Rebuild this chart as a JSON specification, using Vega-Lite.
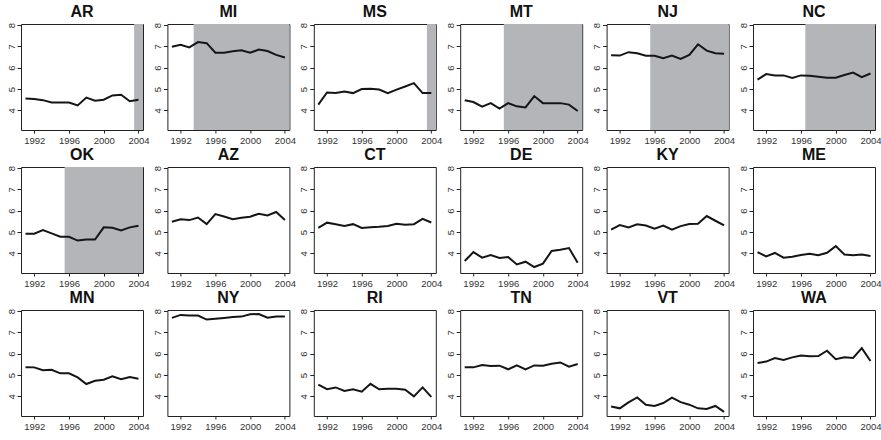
{
"$schema": "https://vega.github.io/schema/vega-lite/v6.json",
"padding": {"left": 5, "top": 3, "right": 2, "bottom": 2},
"background": "white",
"datasets": {
"rates": [
{"state":"AR","order":1,"year":1991,"rate":4.56},{"state":"AR","order":1,"year":1992,"rate":4.53},{"state":"AR","order":1,"year":1993,"rate":4.48},{"state":"AR","order":1,"year":1994,"rate":4.37},{"state":"AR","order":1,"year":1995,"rate":4.37},{"state":"AR","order":1,"year":1996,"rate":4.37},{"state":"AR","order":1,"year":1997,"rate":4.23},{"state":"AR","order":1,"year":1998,"rate":4.6},{"state":"AR","order":1,"year":1999,"rate":4.45},{"state":"AR","order":1,"year":2000,"rate":4.5},{"state":"AR","order":1,"year":2001,"rate":4.7},{"state":"AR","order":1,"year":2002,"rate":4.73},{"state":"AR","order":1,"year":2003,"rate":4.43},{"state":"AR","order":1,"year":2004,"rate":4.5},
{"state":"MI","order":2,"year":1991,"rate":6.98},{"state":"MI","order":2,"year":1992,"rate":7.08},{"state":"MI","order":2,"year":1993,"rate":6.95},{"state":"MI","order":2,"year":1994,"rate":7.2},{"state":"MI","order":2,"year":1995,"rate":7.15},{"state":"MI","order":2,"year":1996,"rate":6.7},{"state":"MI","order":2,"year":1997,"rate":6.7},{"state":"MI","order":2,"year":1998,"rate":6.77},{"state":"MI","order":2,"year":1999,"rate":6.82},{"state":"MI","order":2,"year":2000,"rate":6.7},{"state":"MI","order":2,"year":2001,"rate":6.85},{"state":"MI","order":2,"year":2002,"rate":6.78},{"state":"MI","order":2,"year":2003,"rate":6.6},{"state":"MI","order":2,"year":2004,"rate":6.48},
{"state":"MS","order":3,"year":1991,"rate":4.27},{"state":"MS","order":3,"year":1992,"rate":4.84},{"state":"MS","order":3,"year":1993,"rate":4.81},{"state":"MS","order":3,"year":1994,"rate":4.89},{"state":"MS","order":3,"year":1995,"rate":4.81},{"state":"MS","order":3,"year":1996,"rate":5.0},{"state":"MS","order":3,"year":1997,"rate":5.01},{"state":"MS","order":3,"year":1998,"rate":4.98},{"state":"MS","order":3,"year":1999,"rate":4.81},{"state":"MS","order":3,"year":2000,"rate":4.97},{"state":"MS","order":3,"year":2001,"rate":5.12},{"state":"MS","order":3,"year":2002,"rate":5.28},{"state":"MS","order":3,"year":2003,"rate":4.81},{"state":"MS","order":3,"year":2004,"rate":4.81},
{"state":"MT","order":4,"year":1991,"rate":4.47},{"state":"MT","order":4,"year":1992,"rate":4.39},{"state":"MT","order":4,"year":1993,"rate":4.17},{"state":"MT","order":4,"year":1994,"rate":4.34},{"state":"MT","order":4,"year":1995,"rate":4.08},{"state":"MT","order":4,"year":1996,"rate":4.34},{"state":"MT","order":4,"year":1997,"rate":4.19},{"state":"MT","order":4,"year":1998,"rate":4.14},{"state":"MT","order":4,"year":1999,"rate":4.67},{"state":"MT","order":4,"year":2000,"rate":4.34},{"state":"MT","order":4,"year":2001,"rate":4.34},{"state":"MT","order":4,"year":2002,"rate":4.34},{"state":"MT","order":4,"year":2003,"rate":4.27},{"state":"MT","order":4,"year":2004,"rate":3.97},
{"state":"NJ","order":5,"year":1991,"rate":6.59},{"state":"NJ","order":5,"year":1992,"rate":6.57},{"state":"NJ","order":5,"year":1993,"rate":6.73},{"state":"NJ","order":5,"year":1994,"rate":6.68},{"state":"NJ","order":5,"year":1995,"rate":6.56},{"state":"NJ","order":5,"year":1996,"rate":6.56},{"state":"NJ","order":5,"year":1997,"rate":6.45},{"state":"NJ","order":5,"year":1998,"rate":6.57},{"state":"NJ","order":5,"year":1999,"rate":6.41},{"state":"NJ","order":5,"year":2000,"rate":6.6},{"state":"NJ","order":5,"year":2001,"rate":7.1},{"state":"NJ","order":5,"year":2002,"rate":6.8},{"state":"NJ","order":5,"year":2003,"rate":6.68},{"state":"NJ","order":5,"year":2004,"rate":6.66},
{"state":"NC","order":6,"year":1991,"rate":5.44},{"state":"NC","order":6,"year":1992,"rate":5.7},{"state":"NC","order":6,"year":1993,"rate":5.64},{"state":"NC","order":6,"year":1994,"rate":5.64},{"state":"NC","order":6,"year":1995,"rate":5.52},{"state":"NC","order":6,"year":1996,"rate":5.64},{"state":"NC","order":6,"year":1997,"rate":5.62},{"state":"NC","order":6,"year":1998,"rate":5.58},{"state":"NC","order":6,"year":1999,"rate":5.53},{"state":"NC","order":6,"year":2000,"rate":5.53},{"state":"NC","order":6,"year":2001,"rate":5.66},{"state":"NC","order":6,"year":2002,"rate":5.77},{"state":"NC","order":6,"year":2003,"rate":5.56},{"state":"NC","order":6,"year":2004,"rate":5.73},
{"state":"OK","order":7,"year":1991,"rate":4.92},{"state":"OK","order":7,"year":1992,"rate":4.92},{"state":"OK","order":7,"year":1993,"rate":5.09},{"state":"OK","order":7,"year":1994,"rate":4.94},{"state":"OK","order":7,"year":1995,"rate":4.78},{"state":"OK","order":7,"year":1996,"rate":4.78},{"state":"OK","order":7,"year":1997,"rate":4.6},{"state":"OK","order":7,"year":1998,"rate":4.65},{"state":"OK","order":7,"year":1999,"rate":4.65},{"state":"OK","order":7,"year":2000,"rate":5.22},{"state":"OK","order":7,"year":2001,"rate":5.2},{"state":"OK","order":7,"year":2002,"rate":5.08},{"state":"OK","order":7,"year":2003,"rate":5.22},{"state":"OK","order":7,"year":2004,"rate":5.3},
{"state":"AZ","order":8,"year":1991,"rate":5.48},{"state":"AZ","order":8,"year":1992,"rate":5.6},{"state":"AZ","order":8,"year":1993,"rate":5.56},{"state":"AZ","order":8,"year":1994,"rate":5.68},{"state":"AZ","order":8,"year":1995,"rate":5.37},{"state":"AZ","order":8,"year":1996,"rate":5.84},{"state":"AZ","order":8,"year":1997,"rate":5.73},{"state":"AZ","order":8,"year":1998,"rate":5.6},{"state":"AZ","order":8,"year":1999,"rate":5.67},{"state":"AZ","order":8,"year":2000,"rate":5.72},{"state":"AZ","order":8,"year":2001,"rate":5.86},{"state":"AZ","order":8,"year":2002,"rate":5.78},{"state":"AZ","order":8,"year":2003,"rate":5.94},{"state":"AZ","order":8,"year":2004,"rate":5.57},
{"state":"CT","order":9,"year":1991,"rate":5.2},{"state":"CT","order":9,"year":1992,"rate":5.44},{"state":"CT","order":9,"year":1993,"rate":5.37},{"state":"CT","order":9,"year":1994,"rate":5.28},{"state":"CT","order":9,"year":1995,"rate":5.37},{"state":"CT","order":9,"year":1996,"rate":5.19},{"state":"CT","order":9,"year":1997,"rate":5.23},{"state":"CT","order":9,"year":1998,"rate":5.25},{"state":"CT","order":9,"year":1999,"rate":5.28},{"state":"CT","order":9,"year":2000,"rate":5.39},{"state":"CT","order":9,"year":2001,"rate":5.34},{"state":"CT","order":9,"year":2002,"rate":5.37},{"state":"CT","order":9,"year":2003,"rate":5.62},{"state":"CT","order":9,"year":2004,"rate":5.45},
{"state":"DE","order":10,"year":1991,"rate":3.64},{"state":"DE","order":10,"year":1992,"rate":4.06},{"state":"DE","order":10,"year":1993,"rate":3.8},{"state":"DE","order":10,"year":1994,"rate":3.92},{"state":"DE","order":10,"year":1995,"rate":3.78},{"state":"DE","order":10,"year":1996,"rate":3.83},{"state":"DE","order":10,"year":1997,"rate":3.48},{"state":"DE","order":10,"year":1998,"rate":3.61},{"state":"DE","order":10,"year":1999,"rate":3.36},{"state":"DE","order":10,"year":2000,"rate":3.52},{"state":"DE","order":10,"year":2001,"rate":4.11},{"state":"DE","order":10,"year":2002,"rate":4.17},{"state":"DE","order":10,"year":2003,"rate":4.25},{"state":"DE","order":10,"year":2004,"rate":3.56},
{"state":"KY","order":11,"year":1991,"rate":5.11},{"state":"KY","order":11,"year":1992,"rate":5.33},{"state":"KY","order":11,"year":1993,"rate":5.22},{"state":"KY","order":11,"year":1994,"rate":5.36},{"state":"KY","order":11,"year":1995,"rate":5.31},{"state":"KY","order":11,"year":1996,"rate":5.16},{"state":"KY","order":11,"year":1997,"rate":5.3},{"state":"KY","order":11,"year":1998,"rate":5.11},{"state":"KY","order":11,"year":1999,"rate":5.28},{"state":"KY","order":11,"year":2000,"rate":5.38},{"state":"KY","order":11,"year":2001,"rate":5.39},{"state":"KY","order":11,"year":2002,"rate":5.75},{"state":"KY","order":11,"year":2003,"rate":5.53},{"state":"KY","order":11,"year":2004,"rate":5.31},
{"state":"ME","order":12,"year":1991,"rate":4.06},{"state":"ME","order":12,"year":1992,"rate":3.86},{"state":"ME","order":12,"year":1993,"rate":4.02},{"state":"ME","order":12,"year":1994,"rate":3.8},{"state":"ME","order":12,"year":1995,"rate":3.84},{"state":"ME","order":12,"year":1996,"rate":3.92},{"state":"ME","order":12,"year":1997,"rate":3.98},{"state":"ME","order":12,"year":1998,"rate":3.91},{"state":"ME","order":12,"year":1999,"rate":4.03},{"state":"ME","order":12,"year":2000,"rate":4.34},{"state":"ME","order":12,"year":2001,"rate":3.95},{"state":"ME","order":12,"year":2002,"rate":3.91},{"state":"ME","order":12,"year":2003,"rate":3.95},{"state":"ME","order":12,"year":2004,"rate":3.88},
{"state":"MN","order":13,"year":1991,"rate":5.37},{"state":"MN","order":13,"year":1992,"rate":5.36},{"state":"MN","order":13,"year":1993,"rate":5.23},{"state":"MN","order":13,"year":1994,"rate":5.25},{"state":"MN","order":13,"year":1995,"rate":5.08},{"state":"MN","order":13,"year":1996,"rate":5.08},{"state":"MN","order":13,"year":1997,"rate":4.89},{"state":"MN","order":13,"year":1998,"rate":4.58},{"state":"MN","order":13,"year":1999,"rate":4.73},{"state":"MN","order":13,"year":2000,"rate":4.78},{"state":"MN","order":13,"year":2001,"rate":4.94},{"state":"MN","order":13,"year":2002,"rate":4.81},{"state":"MN","order":13,"year":2003,"rate":4.91},{"state":"MN","order":13,"year":2004,"rate":4.83},
{"state":"NY","order":14,"year":1991,"rate":7.68},{"state":"NY","order":14,"year":1992,"rate":7.82},{"state":"NY","order":14,"year":1993,"rate":7.79},{"state":"NY","order":14,"year":1994,"rate":7.79},{"state":"NY","order":14,"year":1995,"rate":7.6},{"state":"NY","order":14,"year":1996,"rate":7.64},{"state":"NY","order":14,"year":1997,"rate":7.68},{"state":"NY","order":14,"year":1998,"rate":7.72},{"state":"NY","order":14,"year":1999,"rate":7.74},{"state":"NY","order":14,"year":2000,"rate":7.85},{"state":"NY","order":14,"year":2001,"rate":7.86},{"state":"NY","order":14,"year":2002,"rate":7.69},{"state":"NY","order":14,"year":2003,"rate":7.75},{"state":"NY","order":14,"year":2004,"rate":7.75},
{"state":"RI","order":15,"year":1991,"rate":4.55},{"state":"RI","order":15,"year":1992,"rate":4.34},{"state":"RI","order":15,"year":1993,"rate":4.42},{"state":"RI","order":15,"year":1994,"rate":4.25},{"state":"RI","order":15,"year":1995,"rate":4.33},{"state":"RI","order":15,"year":1996,"rate":4.22},{"state":"RI","order":15,"year":1997,"rate":4.59},{"state":"RI","order":15,"year":1998,"rate":4.33},{"state":"RI","order":15,"year":1999,"rate":4.36},{"state":"RI","order":15,"year":2000,"rate":4.36},{"state":"RI","order":15,"year":2001,"rate":4.31},{"state":"RI","order":15,"year":2002,"rate":4.0},{"state":"RI","order":15,"year":2003,"rate":4.42},{"state":"RI","order":15,"year":2004,"rate":3.98},
{"state":"TN","order":16,"year":1991,"rate":5.36},{"state":"TN","order":16,"year":1992,"rate":5.36},{"state":"TN","order":16,"year":1993,"rate":5.47},{"state":"TN","order":16,"year":1994,"rate":5.42},{"state":"TN","order":16,"year":1995,"rate":5.44},{"state":"TN","order":16,"year":1996,"rate":5.27},{"state":"TN","order":16,"year":1997,"rate":5.45},{"state":"TN","order":16,"year":1998,"rate":5.27},{"state":"TN","order":16,"year":1999,"rate":5.45},{"state":"TN","order":16,"year":2000,"rate":5.44},{"state":"TN","order":16,"year":2001,"rate":5.53},{"state":"TN","order":16,"year":2002,"rate":5.59},{"state":"TN","order":16,"year":2003,"rate":5.39},{"state":"TN","order":16,"year":2004,"rate":5.52},
{"state":"VT","order":17,"year":1991,"rate":3.53},{"state":"VT","order":17,"year":1992,"rate":3.44},{"state":"VT","order":17,"year":1993,"rate":3.72},{"state":"VT","order":17,"year":1994,"rate":3.95},{"state":"VT","order":17,"year":1995,"rate":3.61},{"state":"VT","order":17,"year":1996,"rate":3.55},{"state":"VT","order":17,"year":1997,"rate":3.69},{"state":"VT","order":17,"year":1998,"rate":3.94},{"state":"VT","order":17,"year":1999,"rate":3.73},{"state":"VT","order":17,"year":2000,"rate":3.61},{"state":"VT","order":17,"year":2001,"rate":3.44},{"state":"VT","order":17,"year":2002,"rate":3.41},{"state":"VT","order":17,"year":2003,"rate":3.55},{"state":"VT","order":17,"year":2004,"rate":3.27},
{"state":"WA","order":18,"year":1991,"rate":5.57},{"state":"WA","order":18,"year":1992,"rate":5.63},{"state":"WA","order":18,"year":1993,"rate":5.8},{"state":"WA","order":18,"year":1994,"rate":5.71},{"state":"WA","order":18,"year":1995,"rate":5.83},{"state":"WA","order":18,"year":1996,"rate":5.92},{"state":"WA","order":18,"year":1997,"rate":5.88},{"state":"WA","order":18,"year":1998,"rate":5.89},{"state":"WA","order":18,"year":1999,"rate":6.14},{"state":"WA","order":18,"year":2000,"rate":5.74},{"state":"WA","order":18,"year":2001,"rate":5.83},{"state":"WA","order":18,"year":2002,"rate":5.8},{"state":"WA","order":18,"year":2003,"rate":6.26},{"state":"WA","order":18,"year":2004,"rate":5.66},
{"state":"AR","order":1,"shade_from":2003.5},
{"state":"MI","order":2,"shade_from":1993.5},
{"state":"MS","order":3,"shade_from":2003.5},
{"state":"MT","order":4,"shade_from":1995.5},
{"state":"NJ","order":5,"shade_from":1995.5},
{"state":"NC","order":6,"shade_from":1996.5},
{"state":"OK","order":7,"shade_from":1995.5}
]
},
"data": {"name": "rates"},
"facet": {"field": "state", "type": "nominal", "sort": {"field": "order", "op": "min"}, "header": {"title": null}},
"columns": 6,
"spacing": {"column": 24.4, "row": 37},
"bounds": "flush",
"resolve": {"axis": {"x": "independent", "y": "independent"}},
"spec": {
"width": 122,
"height": 106,
"layer": [
{
"transform": [{"filter": "isValid(datum.shade_from)"}],
"mark": {"type": "rect", "color": "#b4b5b8"},
"encoding": {
"x": {"field": "shade_from", "type": "quantitative", "scale": {"domain": [1990.48, 2004.52], "nice": false, "zero": false}},
"x2": {"datum": 2004.52}
}
},
{
"transform": [{"filter": "isValid(datum.rate)"}],
"mark": {"type": "line", "color": "#151515", "strokeWidth": 2},
"encoding": {
"x": {"field": "year", "type": "quantitative", "title": null,
"scale": {"domain": [1990.48, 2004.52], "nice": false, "zero": false},
"axis": {"values": [1992, 1994, 1996, 1998, 2000, 2002, 2004], "format": "d", "labelExpr": "datum.value % 4 == 0 ? datum.label : ''"}},
"y": {"field": "rate", "type": "quantitative", "title": null,
"scale": {"domain": [3.08, 8.05], "nice": false, "zero": false},
"axis": {"values": [4, 5, 6, 7, 8], "labelAngle": -90, "labelAlign": "center", "labelBaseline": "bottom", "format": "d", "tickSize": 4, "labelPadding": 1}}
}
}
]
},
"config": {
"view": {"stroke": "#222", "strokeWidth": 1},
"font": "Liberation Sans",
"axis": {"grid": false, "domain": false, "tickSize": 3, "tickColor": "#222", "labelFont": "Liberation Sans", "labelFontSize": 9.5, "labelColor": "#333", "labelPadding": 2, "labelFlush": false, "labelOverlap": false},
"header": {"labelFont": "Liberation Sans", "labelFontWeight": "bold", "labelFontSize": 16, "labelColor": "#111", "labelPadding": 2}
}
}
